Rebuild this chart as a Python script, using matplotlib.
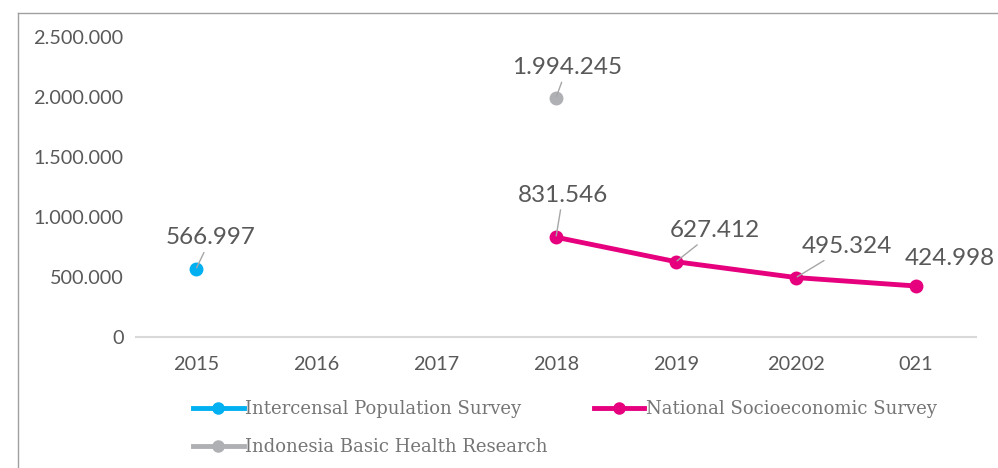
import matplotlib
matplotlib.use("Agg")
import matplotlib.pyplot as plt
from matplotlib.lines import Line2D
from matplotlib.ticker import FuncFormatter, MultipleLocator

years = ["2015", "2016", "2017", "2018", "2019", "20202", "021"]

# one point each for the two single surveys, a short series for susenas
intercensal_x = [0]
intercensal_y = [566997]
riskesdas_x = [3]
riskesdas_y = [1994245]
susenas_x = [3, 4, 5, 6]
susenas_y = [831546, 627412, 495324, 424998]

# label offsets in pixels from the point
intercensal_off = [(15, 31)]
riskesdas_off = [(11, 30)]
susenas_off = [(7, 42), (39, 31), (51, 31), (34, 28)]
susenas_leader = [True, True, True, False]

blue = "#00b0f0"
pink = "#e6007e"
gray = "#afb0b4"
text_gray = "#595959"


def fmt(v):
    return f"{v:,.0f}".replace(",", ".")


fig = plt.figure(figsize=(9.98, 4.68), dpi=100)
ax = fig.add_axes([136 / 998, (468 - 337) / 468, 840 / 998, 300 / 468])

ax.plot(intercensal_x, intercensal_y, color=blue, lw=3.5, marker="o", ms=9)
ax.plot(riskesdas_x, riskesdas_y, color=gray, lw=3.5, marker="o", ms=9)
ax.plot(susenas_x, susenas_y, color=pink, lw=3.5, marker="o", ms=9,
        solid_capstyle="round")


def label(x, y, off, leader=True):
    arrow = None
    if leader:
        arrow = dict(arrowstyle="-", color="#a6a6a6", lw=1, shrinkA=1, shrinkB=1)
    ax.annotate(fmt(y), (x, y), xytext=off, textcoords="offset pixels",
                ha="center", va="center", fontsize=17.5, family="Lato",
                color=text_gray, arrowprops=arrow, annotation_clip=False)


for x, y, o in zip(intercensal_x, intercensal_y, intercensal_off):
    label(x, y, o)
for x, y, o in zip(riskesdas_x, riskesdas_y, riskesdas_off):
    label(x, y, o)
for x, y, o, l in zip(susenas_x, susenas_y, susenas_off, susenas_leader):
    label(x, y, o, l)

ax.set_xlim(-0.5, 6.5)
ax.set_ylim(0, 2500000)
ax.set_xticks(range(len(years)))
ax.set_xticklabels(years)
ax.yaxis.set_major_locator(MultipleLocator(500000))
ax.yaxis.set_major_formatter(FuncFormatter(lambda v, p: fmt(v)))
ax.tick_params(length=0, labelsize=14.3, labelcolor=text_gray)
ax.tick_params(axis="y", pad=9)
ax.tick_params(axis="x", pad=14)
for lab in ax.get_xticklabels() + ax.get_yticklabels():
    lab.set_family("Lato")
for s in ["top", "right", "left"]:
    ax.spines[s].set_visible(False)
ax.spines["bottom"].set_color("#d9d9d9")
ax.spines["bottom"].set_linewidth(1.5)

handles = [
    Line2D([], [], color=blue, lw=3.5, marker="o", ms=8),
    Line2D([], [], color=gray, lw=3.5, marker="o", ms=8),
    Line2D([], [], color=pink, lw=3.5, marker="o", ms=8),
]
names = ["Intercensal Population Survey", "Indonesia Basic Health Research",
         "National Socioeconomic Survey"]
fig.legend(handles, names, ncol=2, loc="upper left",
           bbox_to_anchor=(193 / 998, 1 - 400 / 468), frameon=False,
           prop=dict(family="DejaVu Serif", size=13), labelcolor="#757575",
           handlelength=2.8, handletextpad=0.1, columnspacing=2.55,
           labelspacing=1.1, borderpad=0, borderaxespad=0)

# outer frame lines of the original chart area
fig.add_artist(Line2D([18 / 998, 18 / 998], [0, 1 - 13 / 468], color="#a0a0a0", lw=1))
fig.add_artist(Line2D([18 / 998, 1], [1 - 13 / 468, 1 - 13 / 468], color="#a0a0a0", lw=1))

fig.savefig("out.png", dpi=100)
